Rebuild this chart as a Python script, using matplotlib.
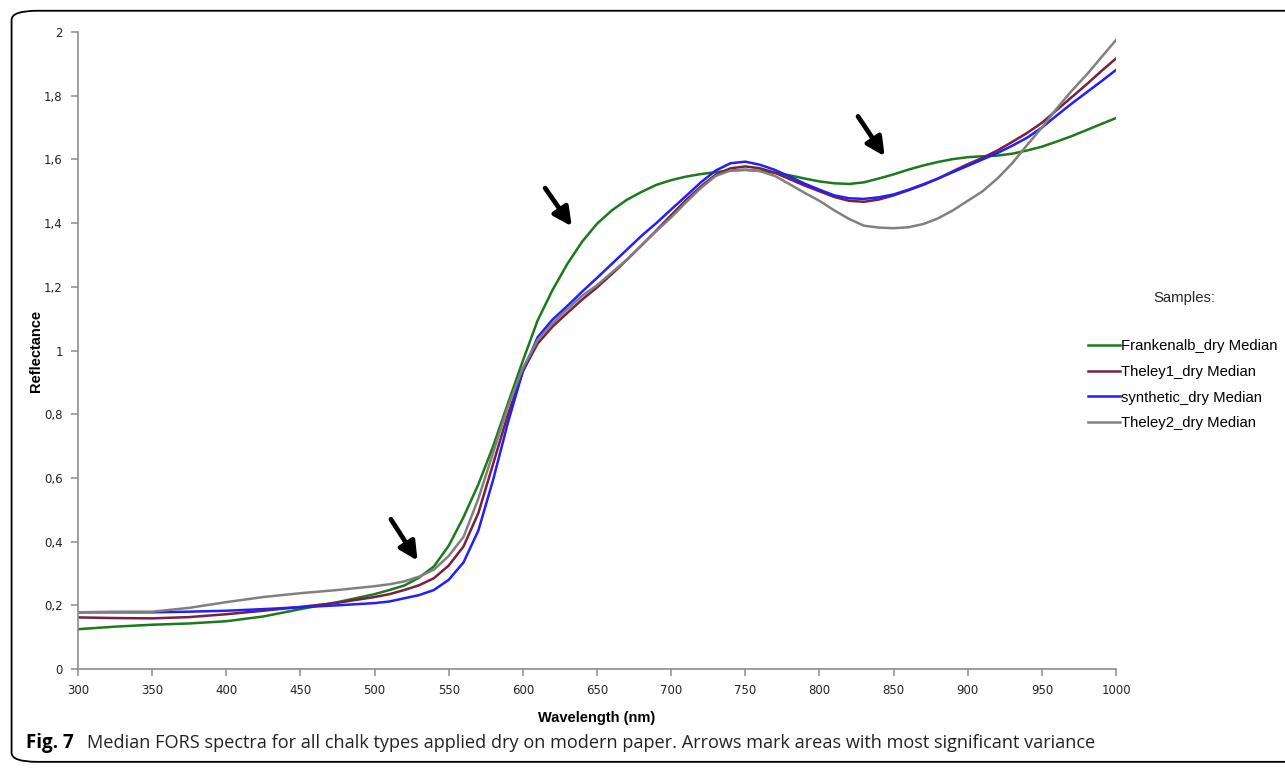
import numpy as np
import matplotlib.pyplot as plt
from matplotlib.patches import FancyBboxPatch
from matplotlib.ticker import FuncFormatter, MultipleLocator

# median FORS spectra, reflectance vs wavelength (nm)
wavelength = [300, 325, 350, 375, 400, 425, 450, 475,
              500, 510, 520, 530, 540, 550, 560, 570, 580, 590,
              600, 610, 620, 630, 640, 650, 660, 670, 680, 690,
              700, 710, 720, 730, 740, 750, 760, 770, 780, 790,
              800, 810, 820, 830, 840, 850, 860, 870, 880, 890,
              900, 910, 920, 930, 940, 950, 960, 970, 980, 990, 1000]

frankenalb = [0.125, 0.133, 0.139, 0.143, 0.150, 0.165, 0.188, 0.210,
              0.235, 0.248, 0.262, 0.287, 0.322, 0.387, 0.477, 0.580, 0.700, 0.835,
              0.968, 1.095, 1.190, 1.272, 1.342, 1.398, 1.440, 1.473, 1.498, 1.520,
              1.535, 1.546, 1.554, 1.560, 1.565, 1.567, 1.564, 1.558, 1.550, 1.540,
              1.531, 1.525, 1.523, 1.528, 1.540, 1.553, 1.568, 1.581, 1.592, 1.601,
              1.607, 1.610, 1.612, 1.618, 1.628, 1.640, 1.656, 1.673, 1.692, 1.711, 1.730]

theley1 = [0.162, 0.160, 0.159, 0.163, 0.172, 0.183, 0.195, 0.208,
           0.226, 0.235, 0.248, 0.263, 0.285, 0.325, 0.385, 0.490, 0.645, 0.800,
           0.935, 1.022, 1.075, 1.118, 1.160, 1.198, 1.240, 1.284, 1.330, 1.377,
           1.425, 1.472, 1.515, 1.552, 1.572, 1.578, 1.572, 1.558, 1.538, 1.518,
           1.500, 1.482, 1.470, 1.467, 1.474, 1.487, 1.503, 1.520, 1.540, 1.563,
           1.585, 1.605, 1.628, 1.655, 1.683, 1.715, 1.755, 1.795, 1.835, 1.877, 1.917]

synthetic = [0.178, 0.178, 0.178, 0.180, 0.183, 0.188, 0.194, 0.200,
             0.207, 0.212, 0.222, 0.232, 0.248, 0.280, 0.335, 0.435, 0.595, 0.775,
             0.935, 1.042, 1.097, 1.140, 1.185, 1.228, 1.272, 1.316, 1.360, 1.400,
             1.443, 1.485, 1.528, 1.565, 1.588, 1.593, 1.583, 1.567, 1.546, 1.524,
             1.505, 1.487, 1.478, 1.476, 1.481, 1.490, 1.505, 1.522, 1.540, 1.560,
             1.580, 1.600, 1.620, 1.643, 1.668, 1.700, 1.738, 1.775, 1.810, 1.845, 1.881]

theley2 = [0.178, 0.180, 0.180, 0.192, 0.210, 0.226, 0.238, 0.248,
           0.260, 0.266, 0.275, 0.290, 0.312, 0.355, 0.415, 0.535, 0.680, 0.825,
           0.945, 1.033, 1.085, 1.130, 1.172, 1.205, 1.245, 1.285, 1.330, 1.375,
           1.418, 1.465, 1.510, 1.548, 1.565, 1.568, 1.563, 1.548, 1.522, 1.495,
           1.470, 1.440, 1.413, 1.392, 1.386, 1.384, 1.387, 1.397, 1.415, 1.440,
           1.470, 1.500, 1.540, 1.588, 1.645, 1.700, 1.760, 1.815, 1.865, 1.920, 1.975]

series = [
    ("Frankenalb_dry Median", frankenalb, "#1b7a1b"),
    ("Theley1_dry Median", theley1, "#7a1f3d"),
    ("synthetic_dry Median", synthetic, "#1f1fff"),
    ("Theley2_dry Median", theley2, "#808080"),
]

# arrows marking the regions of largest variance: (tail, head) in data units
arrows = [((511, 0.47), (529, 0.34)),
          ((615, 1.51), (633, 1.39)),
          ((826, 1.735), (844, 1.61))]

fig = plt.figure(figsize=(12.85, 7.68), dpi=100)
ax = fig.add_axes([0.0607, 0.1289, 0.8078, 0.8294])

for name, vals, col in series:
    ax.plot(wavelength, vals, color=col, lw=1.8, label=name)

for tail, head in arrows:
    ax.annotate("", xy=head, xytext=tail,
                arrowprops=dict(arrowstyle="-|>,head_length=1.1,head_width=0.55",
                                color="black", lw=3.4, shrinkA=0, shrinkB=0))

ax.set_xlim(300, 1000)
ax.set_ylim(0, 2)
ax.xaxis.set_major_locator(MultipleLocator(50))
ax.yaxis.set_major_locator(MultipleLocator(0.2))
ax.yaxis.set_major_formatter(FuncFormatter(lambda v, p: f"{v:g}".replace(".", ",")))

for side in ("top", "right"):
    ax.spines[side].set_visible(False)
for side in ("left", "bottom"):
    ax.spines[side].set_color("#8c8c8c")
    ax.spines[side].set_linewidth(1.2)
ax.tick_params(direction="out", length=5, width=1.1, color="#8c8c8c",
               labelsize=8.5, labelcolor="#222222", pad=6)
for lab in ax.get_xticklabels() + ax.get_yticklabels():
    lab.set_family("DejaVu Sans")

ax.set_xlabel("Wavelength (nm)", fontsize=10.5, fontweight="bold",
              family="Liberation Sans", labelpad=10)
ax.set_ylabel("Reflectance", fontsize=10.5, fontweight="bold",
              family="Liberation Sans", labelpad=1)

fig.text(0.922, 0.612, "Samples:", fontsize=10.7, family="Liberation Sans",
         ha="center", va="center", color="#222222")
fig.legend(loc="upper left", bbox_to_anchor=(0.8467, 0.558), frameon=False,
           prop=dict(family="Liberation Sans", size=10.7), handlelength=2.15,
           handletextpad=0.1, labelspacing=0.78, borderaxespad=0, borderpad=0)

# rounded frame around the figure and the caption
frame = FancyBboxPatch((0.009, 0.008), 1.05, 0.978, transform=fig.transFigure,
                       boxstyle="round,pad=0,rounding_size=0.02",
                       fill=False, ec="black", lw=1.3, mutation_aspect=768 / 1285)
fig.patches.append(frame)

fig.text(0.0205, 0.026, "Fig. 7", fontsize=13.5, fontweight="bold",
         family="Open Sans", va="baseline")
fig.text(0.068, 0.026,
         "Median FORS spectra for all chalk types applied dry on modern paper. "
         "Arrows mark areas with most significant variance",
         fontsize=13.1, family="Open Sans", va="baseline", color="#222222")

fig.savefig("out.png", dpi=100, facecolor="white")
